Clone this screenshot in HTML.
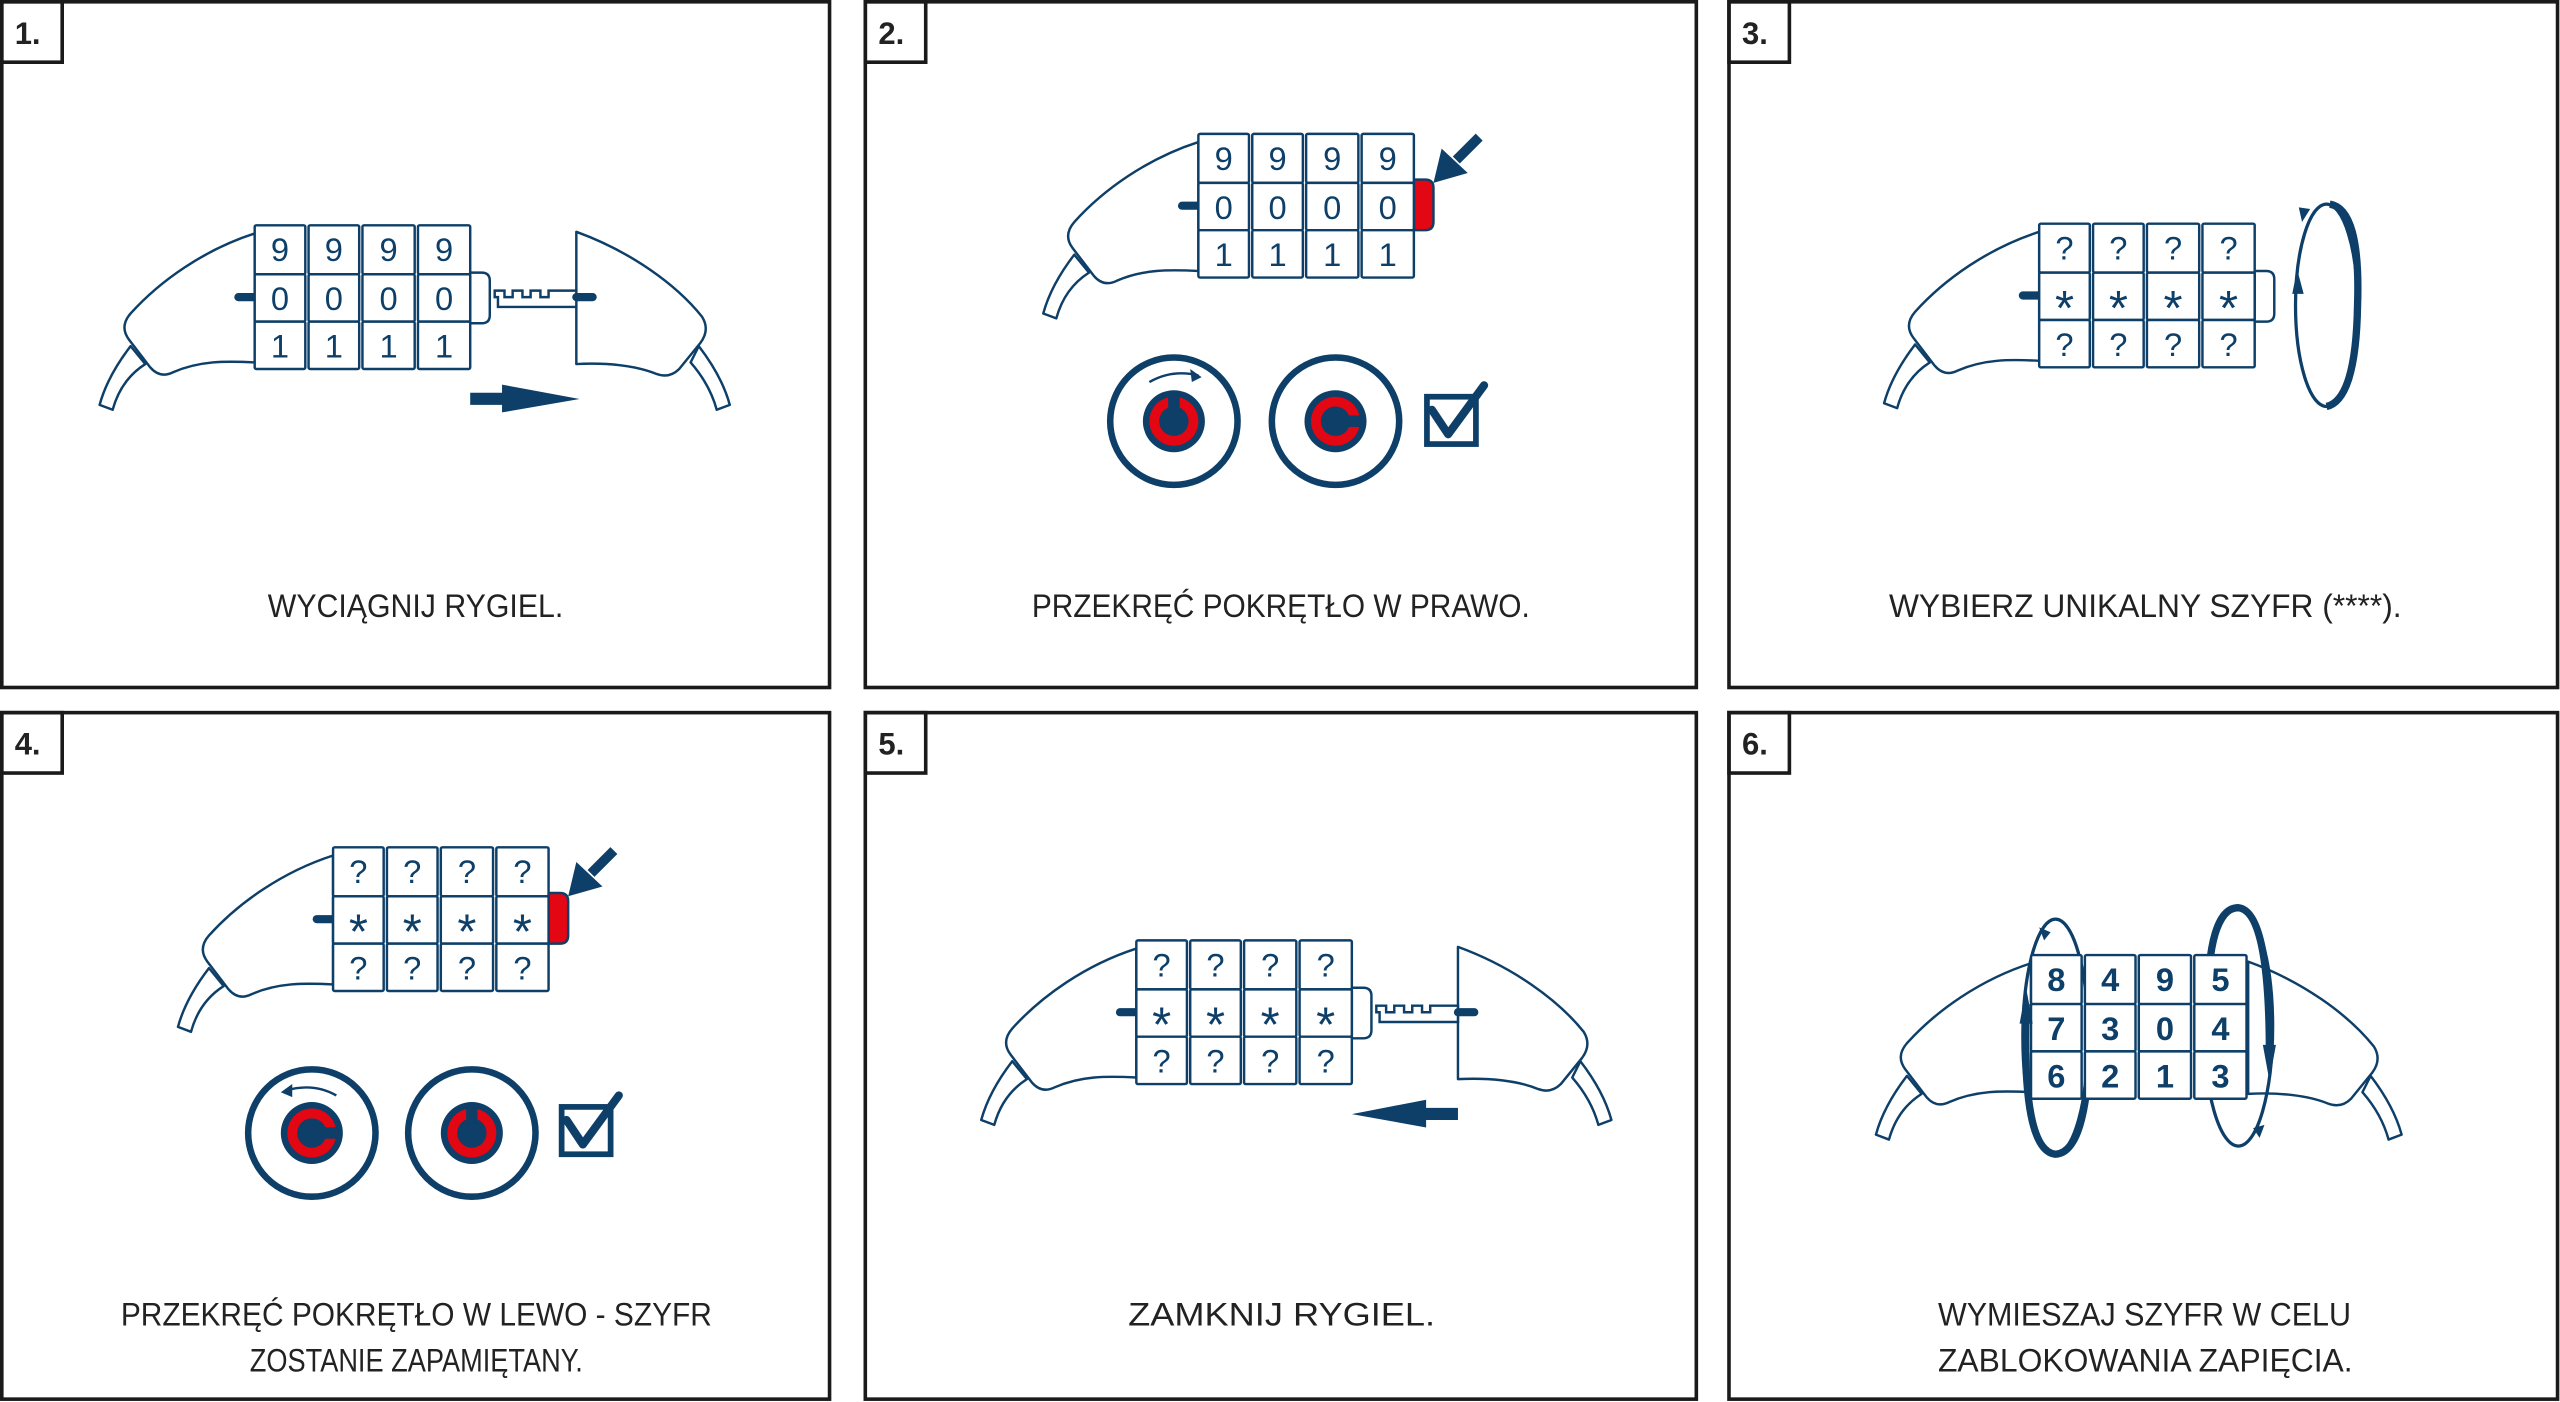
<!DOCTYPE html>
<html><head><meta charset="utf-8"><style>html,body{margin:0;padding:0;background:#fff;}svg{display:block}</style></head>
<body>
<svg width="2560" height="1402" viewBox="0 0 1568 858.75" preserveAspectRatio="none" xmlns="http://www.w3.org/2000/svg" font-family="Liberation Sans, sans-serif">
<defs>
<g id="lb" stroke="#0d3f68" stroke-width="1.5" fill="#fff" stroke-linejoin="round">
  <path d="M80,212 C70,225 64,237 61,248 L69,251 C72,240 78,230 89,223 Z"/>
  <path d="M156,143 C125,153 98,172 80,192 Q73,200 79,208 L92,225 Q98,232 106,228 C122,221 138,221 156,222 Z"/>
  <line x1="146" y1="182" x2="156" y2="182" stroke-width="5" stroke-linecap="round"/>
</g>
<g id="lb6" stroke="#0d3f68" stroke-width="1.5" fill="#fff" stroke-linejoin="round">
  <path d="M80,212 C70,225 64,237 61,248 L69,251 C72,240 78,230 89,223 Z"/>
  <path d="M156,143 C125,153 98,172 80,192 Q73,200 79,208 L92,225 Q98,232 106,228 C122,221 138,221 156,222 Z"/>
</g>
<g id="rb" stroke="#0d3f68" stroke-width="1.5" fill="#fff" stroke-linejoin="round">
  <path d="M428,212 C438,225 444,237 447,248 L439,251 C436,240 430,230 423,222 Z"/>
  <path d="M353,142 V223 C372,222 390,224 402,229 Q410,232 416,226 L429,210 Q435,202 430,194 C414,174 386,154 353,142 Z"/>
</g>
<g id="bolt" stroke="#0d3f68" stroke-width="1.5" fill="#fff">
  <path d="M303,178 H309 V182 H314 V178 H320 V182 H325 V178 H331 V182 H336 V178 H353 V188 H305 V182 H303 Z"/>
  <line x1="353" y1="182" x2="363" y2="182" stroke-width="5" stroke-linecap="round"/>
</g>
<g id="tab"><path d="M288,167 h7 q5,0 5,5 v21 q0,5 -5,5 h-7 Z" fill="#fff" stroke="#0d3f68" stroke-width="1.5"/></g>
<g id="rtab"><path d="M288,166 h7 q5,0 5,5 v21 q0,5 -5,5 h-7 Z" fill="#e30613" stroke="#0d3f68" stroke-width="1.5"/>
  <line x1="328" y1="140" x2="314" y2="154" stroke="#0d3f68" stroke-width="6"/>
  <polygon points="300,168 305,147 321,162" fill="#0d3f68"/></g>
<g id="grid" fill="#fff" stroke="#0d3f68" stroke-width="1.5">
  <rect x="156" y="138" width="31" height="30" rx="1"/><rect x="189" y="138" width="31" height="30" rx="1"/><rect x="222" y="138" width="32" height="30" rx="1"/><rect x="256" y="138" width="32" height="30" rx="1"/>
  <rect x="156" y="168" width="31" height="29" rx="1"/><rect x="189" y="168" width="31" height="29" rx="1"/><rect x="222" y="168" width="32" height="29" rx="1"/><rect x="256" y="168" width="32" height="29" rx="1"/>
  <rect x="156" y="197" width="31" height="29" rx="1"/><rect x="189" y="197" width="31" height="29" rx="1"/><rect x="222" y="197" width="32" height="29" rx="1"/><rect x="256" y="197" width="32" height="29" rx="1"/>
</g>
<g id="qs" fill="#0d3f68" text-anchor="middle">
  <g font-size="20">
  <text x="171.5" y="160">?</text><text x="204.5" y="160">?</text><text x="238" y="160">?</text><text x="272" y="160">?</text>
  <text x="171.5" y="219">?</text><text x="204.5" y="219">?</text><text x="238" y="219">?</text><text x="272" y="219">?</text>
  </g>
  <g font-size="30">
  <text x="171.5" y="200">*</text><text x="204.5" y="200">*</text><text x="238" y="200">*</text><text x="272" y="200">*</text>
  </g>
</g>
<g id="dialT"><circle r="39" fill="#fff" stroke="#0d3f68" stroke-width="4"/><circle r="19" fill="#0d3f68"/><circle r="15" fill="#e30613"/><circle r="9" fill="#0d3f68"/><rect x="-3.5" y="-15" width="7" height="9" fill="#0d3f68"/></g>
<g id="dialR"><circle r="39" fill="#fff" stroke="#0d3f68" stroke-width="4"/><circle r="19" fill="#0d3f68"/><circle r="15" fill="#e30613"/><circle r="9" fill="#0d3f68"/><rect x="6" y="-3.5" width="9" height="7" fill="#0d3f68"/></g>
</defs>

<!-- frames -->
<g fill="none" stroke="#1a1a1a" stroke-width="2.2">
<rect x="1.1" y="1.1" width="507" height="420"/><rect x="530" y="1.1" width="509" height="420"/><rect x="1059" y="1.1" width="507.5" height="420"/>
<rect x="1.1" y="436.5" width="507" height="420.5"/><rect x="530" y="436.5" width="509" height="420.5"/><rect x="1059" y="436.5" width="507.5" height="420.5"/>
<rect x="1.1" y="1.1" width="37" height="37"/><rect x="530" y="1.1" width="37" height="37"/><rect x="1059" y="1.1" width="37" height="37"/>
<rect x="1.1" y="436.5" width="37" height="37"/><rect x="530" y="436.5" width="37" height="37"/><rect x="1059" y="436.5" width="37" height="37"/>
</g>
<g font-weight="bold" font-size="19" fill="#222">
<text x="9" y="27">1.</text><text x="538" y="27">2.</text><text x="1067" y="27">3.</text>
<text x="9" y="462">4.</text><text x="538" y="462">5.</text><text x="1067" y="462">6.</text>
</g>
<g font-size="20" fill="#222">
<text x="164" y="378" textLength="181" lengthAdjust="spacingAndGlyphs">WYCIĄGNIJ RYGIEL.</text>
<text x="632" y="378" textLength="305" lengthAdjust="spacingAndGlyphs">PRZEKRĘĆ POKRĘTŁO W PRAWO.</text>
<text x="1157" y="378" textLength="314" lengthAdjust="spacingAndGlyphs">WYBIERZ UNIKALNY SZYFR (****).</text>
<text x="74" y="812" textLength="362" lengthAdjust="spacingAndGlyphs">PRZEKRĘĆ POKRĘTŁO W LEWO - SZYFR</text>
<text x="153" y="840" textLength="204" lengthAdjust="spacingAndGlyphs">ZOSTANIE ZAPAMIĘTANY.</text>
<text x="691" y="812" textLength="188" lengthAdjust="spacingAndGlyphs">ZAMKNIJ RYGIEL.</text>
<text x="1187" y="812" textLength="253" lengthAdjust="spacingAndGlyphs">WYMIESZAJ SZYFR W CELU</text>
<text x="1187" y="840" textLength="254" lengthAdjust="spacingAndGlyphs">ZABLOKOWANIA ZAPIĘCIA.</text>
</g>

<!-- Panel 1 -->
<g>
<use href="#lb"/><use href="#rb"/><use href="#bolt"/><use href="#tab"/><use href="#grid"/>
<g font-size="20" fill="#0d3f68" text-anchor="middle">
<text x="171.5" y="160">9</text><text x="204.5" y="160">9</text><text x="238" y="160">9</text><text x="272" y="160">9</text>
<text x="171.5" y="190">0</text><text x="204.5" y="190">0</text><text x="238" y="190">0</text><text x="272" y="190">0</text>
<text x="171.5" y="219">1</text><text x="204.5" y="219">1</text><text x="238" y="219">1</text><text x="272" y="219">1</text>
</g>
<polygon points="288,240.6 307.5,240.6 307.5,235.6 355,244.4 307.5,252.6 307.5,248 288,248" fill="#0d3f68"/>
</g>

<!-- Panel 2 -->
<g transform="translate(578,-56)">
<use href="#lb"/><use href="#rtab"/><use href="#grid"/>
<g font-size="20" fill="#0d3f68" text-anchor="middle">
<text x="171.5" y="160">9</text><text x="204.5" y="160">9</text><text x="238" y="160">9</text><text x="272" y="160">9</text>
<text x="171.5" y="190">0</text><text x="204.5" y="190">0</text><text x="238" y="190">0</text><text x="272" y="190">0</text>
<text x="171.5" y="219">1</text><text x="204.5" y="219">1</text><text x="238" y="219">1</text><text x="272" y="219">1</text>
</g>
</g>
<use href="#dialT" x="719" y="258"/><use href="#dialR" x="818" y="258"/>
<path d="M704,234 Q718,226 734,230" fill="none" stroke="#0d3f68" stroke-width="1.5"/>
<polygon points="736,231 729,226 730,234" fill="#0d3f68"/>
<rect x="874" y="243" width="30" height="29" fill="none" stroke="#0d3f68" stroke-width="3.5"/>
<path d="M877,251 L887,266 L909,236" fill="none" stroke="#0d3f68" stroke-width="5" stroke-linecap="round" stroke-linejoin="round"/>

<!-- Panel 3 -->
<g transform="translate(1093,-1)">
<use href="#lb"/><use href="#tab"/><use href="#grid"/><use href="#qs"/>
</g>
<ellipse cx="1425" cy="187" rx="19" ry="62" fill="none" stroke="#0d3f68" stroke-width="2"/>
<path d="M1427,125 Q1446,128 1444,187 Q1443,245 1425,249" fill="none" stroke="#0d3f68" stroke-width="4.5"/>
<polygon points="1407,165 1411,180 1404,180" fill="#0d3f68"/>
<polygon points="1410,136 1415,128 1408,127" fill="#0d3f68"/>

<!-- Panel 4 -->
<g transform="translate(48,381)">
<use href="#lb"/><use href="#rtab"/><use href="#grid"/><use href="#qs"/>
</g>
<use href="#dialR" x="191" y="694"/><use href="#dialT" x="289" y="694"/>
<path d="M206,671 Q192,663 175,668" fill="none" stroke="#0d3f68" stroke-width="1.5"/>
<polygon points="172,669 179,664 179,672" fill="#0d3f68"/>
<rect x="344" y="678" width="30" height="29" fill="none" stroke="#0d3f68" stroke-width="3.5"/>
<path d="M347,686 L357,701 L379,671" fill="none" stroke="#0d3f68" stroke-width="5" stroke-linecap="round" stroke-linejoin="round"/>

<!-- Panel 5 -->
<g transform="translate(540,438)">
<use href="#lb"/><use href="#rb"/><use href="#bolt"/><use href="#tab"/><use href="#grid"/><use href="#qs"/>
<polygon points="353,240.6 333.5,240.6 333.5,235.6 288,244.4 333.5,252.6 333.5,248 353,248" fill="#0d3f68"/>
</g>

<!-- Panel 6 -->
<g transform="translate(1088,447)">
<use href="#lb6"/><use href="#rb" transform="translate(-64,0)"/>
</g>
<ellipse cx="1259" cy="635" rx="20" ry="72" fill="none" stroke="#0d3f68" stroke-width="2"/>
<path d="M1241,615 Q1238,705 1259,707 Q1278,706 1280,640" fill="none" stroke="#0d3f68" stroke-width="4.5"/>
<ellipse cx="1371" cy="629" rx="21" ry="73" fill="none" stroke="#0d3f68" stroke-width="2"/>
<path d="M1352,620 Q1352,556 1371,556 Q1390,558 1390,645" fill="none" stroke="#0d3f68" stroke-width="4.5"/>
<g transform="translate(1088,447)">
<use href="#grid"/>
<g font-size="20" font-weight="bold" fill="#0d3f68" text-anchor="middle">
<text x="171.5" y="160">8</text><text x="204.5" y="160">4</text><text x="238" y="160">9</text><text x="272" y="160">5</text>
<text x="171.5" y="190">7</text><text x="204.5" y="190">3</text><text x="238" y="190">0</text><text x="272" y="190">4</text>
<text x="171.5" y="219">6</text><text x="204.5" y="219">2</text><text x="238" y="219">1</text><text x="272" y="219">3</text>
</g>
</g>
<polygon points="1241,605 1237,627 1245,627" fill="#0d3f68"/>
<polygon points="1390,662 1386,640 1394,640" fill="#0d3f68"/>
<polygon points="1249,568 1252,576 1256,571" fill="#0d3f68"/>
<polygon points="1384,697 1380,691 1387,689" fill="#0d3f68"/>
</svg>
</body></html>
